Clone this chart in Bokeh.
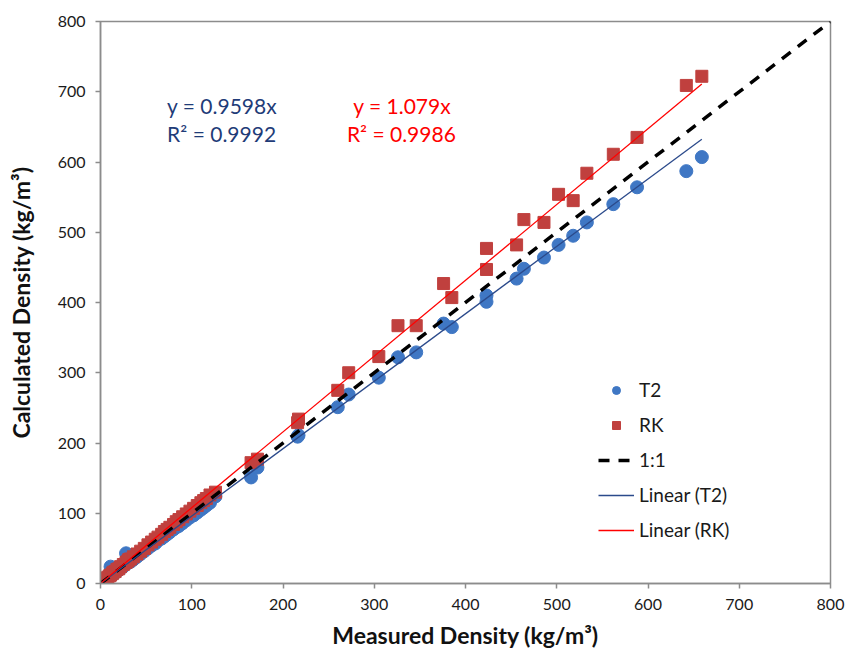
from bokeh.plotting import figure
from bokeh.models import Range1d, FixedTicker, Label, Legend, LegendItem
from bokeh.embed import file_html
from bokeh.resources import INLINE

# ---- data ----
measured = [0.5, 2, 3, 5, 6, 8, 10, 11, 13, 14, 16, 18, 20, 22, 25, 28, 30, 31, 33, 36,
            40, 44, 48, 52, 56, 60, 63, 67, 70, 73, 76, 80, 83, 86, 90, 94, 98, 102,
            106, 110, 113, 116, 120, 126, 165, 172, 216, 217, 260, 272, 305, 326, 346,
            376, 385, 423, 423, 456, 464, 486, 502, 518, 533, 562, 588, 642, 659]
calc_t2 = [0.5, 2, 3, 6, 5, 9, 10, 24, 13, 21, 15, 18, 19, 21, 24, 43, 29, 38, 31, 34,
           38, 42, 46, 50, 54, 57, 61, 64, 67, 70, 73, 77, 80, 82, 86, 90, 94, 97,
           101, 105, 108, 111, 115, 124, 151, 165, 209, 211, 251, 269, 293, 322, 329,
           370, 365, 410, 401, 434, 448, 464, 482, 495, 514, 540, 564, 587, 607]
calc_rk = [1, 2, 4, 6, 7, 9, 11, 12, 14, 16, 17, 20, 21, 24, 27, 30, 32, 34, 35, 38,
           42, 46, 50, 55, 59, 63, 66, 70, 74, 77, 80, 84, 88, 91, 95, 99, 103, 107,
           111, 115, 118, 121, 126, 130, 172, 177, 229, 234, 275, 300, 323, 367, 367,
           427, 407, 477, 447, 482, 518, 514, 554, 545, 584, 611, 635, 709, 722]
slope_t2 = 0.9598
slope_rk = 1.079
r2_t2 = 0.9992
r2_rk = 0.9986
one_to_one = [0, 800]
ticks = [0, 100, 200, 300, 400, 500, 600, 700, 800]

FONT = "Lato"
BLUE = "#3F77C4"
RED = "#C0403E"
TBLUE = "#2B4A8B"
TRED = "#FF0000"
TXT_BLUE = "#1F3C78"
AX = "#8C8C8C"

p = figure(width=846, height=651, output_backend="svg", toolbar_location=None,
           x_range=Range1d(0, 800), y_range=Range1d(0, 800),
           min_border_left=100, min_border_right=16, min_border_top=21, min_border_bottom=68)
p.background_fill_color = "white"
p.border_fill_color = "white"
p.outline_line_color = AX
p.outline_line_width = 1.5
p.xgrid.visible = False
p.ygrid.visible = False

for ax in (p.xaxis[0], p.yaxis[0]):
    ax.ticker = FixedTicker(ticks=ticks)
    ax.axis_line_color = AX
    ax.axis_line_width = 1.5
    ax.major_tick_line_color = AX
    ax.major_tick_line_width = 1.5
    ax.major_tick_out = 5
    ax.major_tick_in = 0
    ax.minor_tick_line_color = None
    ax.major_label_text_font = FONT
    ax.major_label_text_font_size = "16px"
    ax.major_label_text_color = "#1A1A1A"
    ax.major_label_standoff = 10
    ax.axis_label_text_font = FONT
    ax.axis_label_text_font_size = "23px"
    ax.axis_label_text_font_style = "bold"
    ax.axis_label_text_color = "#111111"

p.xaxis.axis_label = "Measured Density (kg/m³)"
p.yaxis.axis_label = "Calculated Density (kg/m³)"
p.xaxis.axis_label_standoff = 8
p.yaxis.axis_label_standoff = 20

r_t2 = p.scatter(measured, calc_t2, marker="circle", size=13, fill_color=BLUE, line_color=BLUE)
r_rk = p.scatter(measured, calc_rk, marker="square", size=12, fill_color=RED, line_color=RED)

r_11 = p.line(one_to_one, one_to_one, line_color="black", line_width=3.5, line_dash="11 9")

xmax = max(measured)
r_lt2 = p.line([0, xmax], [0, slope_t2 * xmax], line_color=TBLUE, line_width=1.3)
r_lrk = p.line([0, xmax], [0, slope_rk * xmax], line_color=TRED, line_width=1.3)

for txt, x, y, c in [
    (f"y = {slope_t2}x", 73, 680, TXT_BLUE),
    (f"R² = {r2_t2}", 73, 641, TXT_BLUE),
    (f"y = {slope_rk}x", 277, 680, TRED),
    (f"R² = {r2_rk}", 270, 641, TRED),
]:
    p.add_layout(Label(x=x, y=y, text=txt, text_color=c, text_font=FONT,
                       text_font_size="21px", text_baseline="middle"))

legend = Legend(items=[
    LegendItem(label="T2", renderers=[r_t2]),
    LegendItem(label="RK", renderers=[r_rk]),
    LegendItem(label="1:1", renderers=[r_11]),
    LegendItem(label="Linear (T2)", renderers=[r_lt2]),
    LegendItem(label="Linear (RK)", renderers=[r_lrk]),
], location=(498, 42))
legend.glyph_width = 36
legend.glyph_height = 20
legend.label_height = 20
legend.spacing = 12
legend.padding = 0
legend.margin = 0
legend.label_standoff = 5
legend.label_text_font = FONT
legend.label_text_font_size = "19px"
legend.label_text_color = "#1A1A1A"
legend.border_line_color = None
legend.background_fill_alpha = 0
p.add_layout(legend)

open("out.html", "w").write(file_html(p, INLINE))
